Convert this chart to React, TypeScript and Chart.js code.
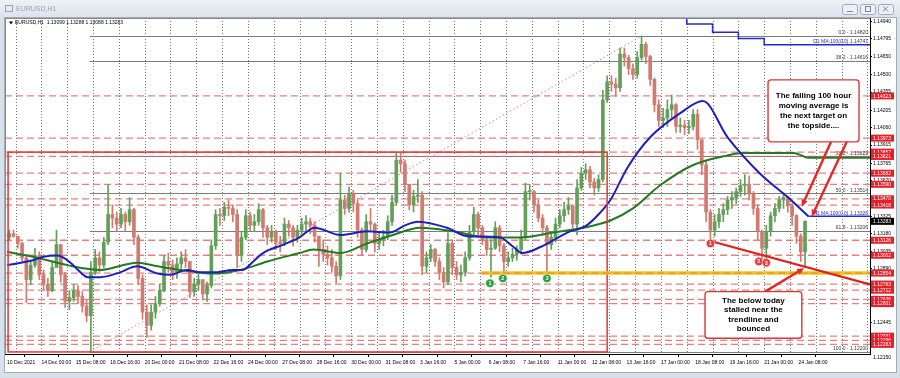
import React, { useEffect, useRef } from 'react';
import { Chart, registerables } from 'chart.js';
Chart.register(...registerables);

const FONT = "'Liberation Sans', Arial, sans-serif";

// ---- 4-hour OHLC (open = previous close) ----
const BAR_HOURS = 4;
const firstOpen = 1.1315;
const closes = [
  1.1318,1.1316,1.1310,1.1298,1.1280,1.1292,1.1300,1.1284,1.1276,1.1271,
  1.1290,1.1309,1.1284,1.1262,1.1265,1.1271,1.1266,1.1258,1.1250,1.1286,
  1.1298,1.1292,1.1311,1.1334,1.1331,1.1326,1.1334,1.1328,1.1338,1.1315,
  1.1281,1.1253,1.1242,1.1253,1.1260,1.1271,1.1295,1.1292,1.1286,1.1293,
  1.1298,1.1295,1.1270,1.1276,1.1280,1.1268,1.1275,1.1308,1.1334,1.1333,
  1.1340,1.1339,1.1334,1.1300,1.1315,1.1333,1.1325,1.1328,1.1338,1.1323,
  1.1315,1.1320,1.1311,1.1310,1.1326,1.1323,1.1315,1.1321,1.1326,1.1328,
  1.1325,1.1316,1.1305,1.1301,1.1298,1.1291,1.1283,1.1346,1.1339,1.1351,
  1.1343,1.1321,1.1305,1.1328,1.1326,1.1310,1.1313,1.1316,1.1328,1.1344,
  1.1379,1.1376,1.1359,1.1342,1.1349,1.1350,1.1291,1.1298,1.1305,1.1295,
  1.1286,1.1278,1.1310,1.1290,1.1284,1.1286,1.1298,1.1320,1.1334,1.1323,
  1.1313,1.1305,1.1306,1.1323,1.1308,1.1295,1.1298,1.1301,1.1305,1.1315,
  1.1353,1.1353,1.1342,1.1331,1.1323,1.1309,1.1315,1.1326,1.1333,1.1338,
  1.1341,1.1326,1.1356,1.1368,1.1371,1.1361,1.1356,1.1363,1.1429,1.1444,
  1.1442,1.1439,1.1467,1.1464,1.1455,1.1450,1.1464,1.1475,1.1465,1.1446,
  1.1425,1.1412,1.1414,1.1421,1.1425,1.1407,1.1408,1.1406,1.1407,1.1417,
  1.1396,1.1375,1.1336,1.1321,1.1328,1.1334,1.1338,1.1346,1.1348,1.1353,
  1.1358,1.1359,1.1351,1.1339,1.1320,1.1306,1.1320,1.1333,1.1339,1.1346,
  1.1348,1.1341,1.1333,1.1316,1.1303,1.13283,
];
const highs = [
  1.1321,1.1321,1.1316,1.1311,1.1300,1.1295,1.1306,1.1303,1.1288,1.1281,
  1.1295,1.1321,1.1309,1.1286,1.1271,1.1276,1.1275,1.1270,1.1263,1.1295,
  1.1305,1.1303,1.1315,1.1359,1.1342,1.1336,1.1339,1.1336,1.1348,1.1339,
  1.1317,1.1284,1.1259,1.1259,1.1266,1.1276,1.1300,1.1302,1.1296,1.1298,
  1.1303,1.1305,1.1295,1.1281,1.1286,1.1280,1.1278,1.1313,1.1338,1.1339,
  1.1344,1.1346,1.1342,1.1338,1.1320,1.1338,1.1336,1.1334,1.1343,1.1339,
  1.1325,1.1325,1.1321,1.1316,1.1331,1.1329,1.1325,1.1325,1.1331,1.1333,
  1.1331,1.1328,1.1316,1.1313,1.1308,1.1305,1.1295,1.1368,1.1350,1.1357,
  1.1354,1.1346,1.1323,1.1334,1.1339,1.1327,1.1320,1.1321,1.1333,1.1350,
  1.1385,1.1385,1.1379,1.1359,1.1354,1.1363,1.1353,1.1303,1.1309,1.1306,
  1.1298,1.1290,1.1319,1.1313,1.1295,1.1292,1.1303,1.1325,1.1340,1.1336,
  1.1325,1.1316,1.1313,1.1328,1.1325,1.1310,1.1303,1.1306,1.1308,1.1321,
  1.1360,1.1359,1.1354,1.1346,1.1334,1.1325,1.1320,1.1331,1.1338,1.1344,
  1.1348,1.1342,1.1363,1.1373,1.1376,1.1374,1.1364,1.1367,1.1437,1.1449,
  1.1449,1.1447,1.1472,1.1472,1.1466,1.1459,1.1469,1.1482,1.1477,1.1466,
  1.1447,1.1429,1.1422,1.1429,1.1433,1.1426,1.1414,1.1412,1.1412,1.1421,
  1.1421,1.1396,1.1379,1.1338,1.1334,1.1339,1.1343,1.1349,1.1353,1.1356,
  1.1363,1.1367,1.1366,1.1353,1.1342,1.1321,1.1325,1.1336,1.1343,1.1349,
  1.1352,1.1349,1.1343,1.1334,1.1318,1.13288,
];
const lows = [
  1.1313,1.1315,1.1306,1.1295,1.1261,1.1276,1.1290,1.1280,1.1271,1.1266,
  1.1270,1.1290,1.1278,1.1257,1.1255,1.1262,1.1260,1.1253,1.1245,1.1220,
  1.1284,1.1286,1.1290,1.1309,1.1323,1.1320,1.1323,1.1320,1.1325,1.1309,
  1.1276,1.1247,1.1232,1.1238,1.1248,1.1258,1.1270,1.1286,1.1280,1.1281,
  1.1288,1.1290,1.1265,1.1266,1.1271,1.1263,1.1262,1.1273,1.1305,1.1325,
  1.1329,1.1333,1.1328,1.1290,1.1295,1.1313,1.1320,1.1320,1.1325,1.1315,
  1.1309,1.1311,1.1305,1.1303,1.1308,1.1316,1.1308,1.1311,1.1318,1.1320,
  1.1318,1.1311,1.1291,1.1295,1.1292,1.1286,1.1277,1.1280,1.1334,1.1336,
  1.1336,1.1315,1.1300,1.1303,1.1321,1.1303,1.1305,1.1308,1.1313,1.1325,
  1.1342,1.1369,1.1353,1.1338,1.1336,1.1344,1.1284,1.1286,1.1295,1.1291,
  1.1280,1.1273,1.1276,1.1284,1.1280,1.1278,1.1283,1.1296,1.1317,1.1317,
  1.1309,1.1300,1.1282,1.1305,1.1303,1.1285,1.1291,1.1295,1.1296,1.1301,
  1.1313,1.1346,1.1336,1.1328,1.1317,1.1285,1.1305,1.1311,1.1323,1.1328,
  1.1334,1.1321,1.1317,1.1354,1.1363,1.1356,1.1350,1.1353,1.1361,1.1427,
  1.1436,1.1432,1.1436,1.1457,1.1450,1.1446,1.1447,1.1462,1.1459,1.1441,
  1.1419,1.1407,1.1406,1.1407,1.1414,1.1402,1.1402,1.1400,1.1401,1.1404,
  1.1388,1.1367,1.1328,1.1313,1.1316,1.1323,1.1328,1.1334,1.1339,1.1343,
  1.1349,1.1350,1.1346,1.1334,1.1313,1.1295,1.1295,1.1316,1.1328,1.1336,
  1.1339,1.1336,1.1325,1.1310,1.1295,1.1291,
];

// ---- moving averages (hour index, price) ----
const ma100Hours = [0,24,34,47,59,66,75,87,105,121,140,152,167,180,192,210,219,229,238,257,272,286,310,335,356,370,382,409,428,458,471,479,496,521,539,551,561,577,598,626,647,670,700,725,745];
const ma100 = [1.1292,1.1296,1.1299,1.1300,1.1294,1.1288,1.1282,1.1282,1.1286,1.1291,1.1285,1.1284,1.1288,1.1286,1.1286,1.1288,1.1288,1.1295,1.1302,1.1309,1.1315,1.1323,1.1317,1.1320,1.1319,1.1325,1.1328,1.1323,1.1316,1.1315,1.1307,1.1302,1.1307,1.1319,1.1325,1.1335,1.1346,1.1373,1.1398,1.1418,1.1428,1.1398,1.1368,1.1349,1.13326];
const ma200Hours = [0,24,56,87,121,140,161,192,217,242,272,285,310,335,359,384,415,446,477,508,536,561,582,607,638,670,684,731,744];
const ma200 = [1.1303,1.1299,1.1292,1.1288,1.1294,1.1291,1.1288,1.1285,1.1288,1.1295,1.1302,1.1305,1.1302,1.1310,1.1317,1.1323,1.1320,1.1315,1.1315,1.1319,1.1323,1.1329,1.1339,1.1358,1.1375,1.1383,1.1385,1.1385,1.1381];
const d1MaHours = [632, 656, 680, 704, 728, 802.4];
const d1Ma = [1.1496, 1.1492, 1.1485, 1.1480, 1.14747, 1.14747];

// ---- axes ----
const X_MIN = -1.86, X_MAX = 802.4;
const Y_MIN = 1.12183, Y_MAX = 1.14969;
const dateTickHours = [0,32,64,96,128,160,192,224,256,288,320,352,384,416,448,480,512,544,576,608,640,672,704,736];
const dateLabels = ['10 Dec 2021','14 Dec 00:00','15 Dec 08:00','16 Dec 16:00','20 Dec 00:00','21 Dec 08:00','22 Dec 16:00','24 Dec 00:00','27 Dec 08:00','28 Dec 16:00','30 Dec 00:00','31 Dec 08:00','3 Jan 16:00','5 Jan 00:00','6 Jan 08:00','7 Jan 16:00','11 Jan 00:00','12 Jan 08:00','13 Jan 16:00','17 Jan 00:00','18 Jan 08:00','19 Jan 16:00','21 Jan 00:00','24 Jan 08:00'];
const yTickValues = [1.1494,1.14795,1.1465,1.145,1.14355,1.14205,1.1406,1.13915,1.13765,1.1362,1.1347,1.13325,1.1318,1.13035,1.1289,1.1274,1.12595,1.12445,1.123,1.1215];

// ---- drawn objects ----
const redLevels = [1.14323,1.13973,1.13857,1.13821,1.13682,1.1359,1.1347,1.13418,1.13126,1.13002,1.12854,1.12763,1.12712,1.12636,1.12601,1.12331,1.12296,1.12263];
const currentPrice = 1.13283;
const fibLevels = [1.1482, 1.14616, 1.13822, 1.13514, 1.13206, 1.122];
const fibLabels = ['0.0 - 1.14820','38.2 - 1.14616','38.2 - 1.13822','50.0 - 1.13514','61.8 - 1.13206','100.0 - 1.12200'];
const fibStartHour = 77;
const fibDiagonal = [[77, 1.122], [590, 1.1482]];
const yellowLevel = 1.12854, yellowStartHour = 441;
const rangeBox = { h0: 1, h1: 558, top: 1.13857, bottom: 1.122 };
const trendLine = [[654, 1.1312], [802.4, 1.1276]];
const redMarks: [number, number, string][] = [[654, 1.1310, '1'], [699, 1.1295, '2'], [706, 1.1294, '3']];
const greenMarks: [number, number, string][] = [[449, 1.1277, '1'], [461, 1.1281, '2'], [502, 1.1281, '3']];
const callouts = [
  { h0: 707.6, h1: 792.2, top: 1.14456, bottom: 1.13942, gap: 10, lines: ['The falling 100 hour', 'moving average is', 'the next target on', 'the topside....'] },
  { h0: 649, h1: 739, top: 1.127, bottom: 1.12314, gap: 9.5, lines: ['The below today', 'stalled near the', 'trendline and', 'bounced'] },
];
const arrows = [[766.2, 1.13942, 738.9, 1.13405], [780.8, 1.13942, 748.2, 1.13322], [704.8, 1.127, 741.1, 1.12894]];
const maLabels = [
  { text: 'D1 MA:100(0.0) 1.14747', price: 1.14747, color: 'rgb(40,40,210)' },
  { text: 'H1 MA:100(0.0) 1.13326', price: 1.13326, color: 'rgb(40,40,210)' },
];

const BULL = 'rgb(98,160,90)';
const BEAR = 'rgb(208,122,112)';

function seg(ctx: CanvasRenderingContext2D, x1: number, y1: number, x2: number, y2: number) {
  ctx.beginPath(); ctx.moveTo(x1, y1); ctx.lineTo(x2, y2); ctx.stroke();
}
function rrect(ctx: CanvasRenderingContext2D, x: number, y: number, w: number, h: number, r: number) {
  ctx.beginPath();
  ctx.moveTo(x + r, y); ctx.lineTo(x + w - r, y); ctx.quadraticCurveTo(x + w, y, x + w, y + r);
  ctx.lineTo(x + w, y + h - r); ctx.quadraticCurveTo(x + w, y + h, x + w - r, y + h);
  ctx.lineTo(x + r, y + h); ctx.quadraticCurveTo(x, y + h, x, y + h - r);
  ctx.lineTo(x, y + r); ctx.quadraticCurveTo(x, y, x + r, y); ctx.closePath();
}
function arrow(ctx: CanvasRenderingContext2D, x1: number, y1: number, x2: number, y2: number) {
  const a = Math.atan2(y2 - y1, x2 - x1);
  const L = 7, W = 3.2;
  seg(ctx, x1, y1, x2 - (L - 1) * Math.cos(a), y2 - (L - 1) * Math.sin(a));
  ctx.beginPath();
  ctx.moveTo(x2, y2);
  ctx.lineTo(x2 - L * Math.cos(a) + W * Math.sin(a), y2 - L * Math.sin(a) - W * Math.cos(a));
  ctx.lineTo(x2 - L * Math.cos(a) - W * Math.sin(a), y2 - L * Math.sin(a) + W * Math.cos(a));
  ctx.closePath(); ctx.fill();
}

const mtPlugin = {
  id: 'mtOverlay',
  beforeDraw(chart: any) {
    const ctx: CanvasRenderingContext2D = chart.ctx;
    const W = chart.width, H = chart.height;
    ctx.save();
    ctx.fillStyle = '#ffffff'; ctx.fillRect(0, 0, W, H);
    const g = ctx.createLinearGradient(0, 0, 0, 17);
    g.addColorStop(0, '#eef2f6'); g.addColorStop(1, '#dce3eb');
    ctx.fillStyle = g; ctx.fillRect(0, 0, W, 17);
    ctx.fillStyle = '#d8e0ea';
    ctx.fillRect(0, 17, 4, H - 17); ctx.fillRect(W - 3, 17, 3, H - 17); ctx.fillRect(0, 372, W, H - 372);
    ctx.strokeStyle = '#a3adb8'; ctx.lineWidth = 1;
    ctx.strokeRect(4.5, 17.5, W - 8, 355);
    // title icon and text
    ctx.strokeStyle = '#9aa4ae'; ctx.strokeRect(5.5, 5.5, 7, 6);
    ctx.fillStyle = '#98a1ab'; ctx.font = `7px ${FONT}`; ctx.textBaseline = 'middle'; ctx.textAlign = 'left';
    ctx.fillText('EURUSD,H1', 16, 9);
    // window buttons
    [842, 860, 878].forEach((bx, i) => {
      rrect(ctx, bx + 0.5, 4.5, 15, 10, 2);
      ctx.fillStyle = '#edf1f5'; ctx.fill(); ctx.strokeStyle = '#a0abb6'; ctx.stroke();
      ctx.strokeStyle = '#7d8894';
      if (i === 0) seg(ctx, bx + 5, 11.5, bx + 11, 11.5);
      if (i === 1) ctx.strokeRect(bx + 5.5, 6.5, 5, 5);
      if (i === 2) { seg(ctx, bx + 5, 6.5, bx + 10, 11.5); seg(ctx, bx + 10, 6.5, bx + 5, 11.5); }
    });
    // info line
    ctx.fillStyle = '#000';
    ctx.beginPath(); ctx.moveTo(9, 21.5); ctx.lineTo(13, 21.5); ctx.lineTo(11, 24.5); ctx.closePath(); ctx.fill();
    ctx.font = `5px ${FONT}`;
    ctx.fillText('EURUSD,H1  1.13099 1.13288 1.13088 1.13283', 15, 23);
    ctx.restore();
  },
  beforeDatasetsDraw(chart: any) {
    const ctx: CanvasRenderingContext2D = chart.ctx;
    const a = chart.chartArea, xs = chart.scales.x, ys = chart.scales.y;
    const X = (h: number) => xs.getPixelForValue(h), Y = (p: number) => ys.getPixelForValue(p);
    ctx.save();
    ctx.beginPath(); ctx.rect(a.left, a.top, a.right - a.left, a.bottom - a.top); ctx.clip();
    // plot frame (left / top)
    ctx.strokeStyle = '#8a8a8a'; ctx.lineWidth = 1;
    seg(ctx, a.left + 0.5, a.top, a.left + 0.5, a.bottom);
    seg(ctx, a.left, a.top + 0.5, a.right, a.top + 0.5);
    // day separators
    ctx.strokeStyle = '#7a7a7a'; ctx.setLineDash([1, 2]);
    for (let k = 0; 8 + 24 * k <= X_MAX; k++) {
      const px = Math.round(X(8 + 24 * k)) + 0.5;
      seg(ctx, px, a.top, px, a.bottom);
    }
    // fibonacci levels
    ctx.setLineDash([]); ctx.strokeStyle = '#7c7c7c'; ctx.lineWidth = 1;
    fibLevels.forEach((p) => { const py = Math.round(Y(p)) + 0.5; seg(ctx, X(fibStartHour), py, a.right, py); });
    // red dashed horizontal levels
    ctx.setLineDash([7, 4]); ctx.strokeStyle = 'rgba(224,98,98,0.8)'; ctx.lineWidth = 1.3;
    redLevels.forEach((p) => { const py = Y(p); seg(ctx, a.left, py, a.right, py); });
    // fib diagonal
    ctx.setLineDash([1.5, 2.5]); ctx.strokeStyle = 'rgba(196,120,130,0.9)'; ctx.lineWidth = 1;
    seg(ctx, X(fibDiagonal[0][0]), Y(fibDiagonal[0][1]), X(fibDiagonal[1][0]), Y(fibDiagonal[1][1]));
    ctx.restore();
  },
  afterDatasetsDraw(chart: any) {
    const ctx: CanvasRenderingContext2D = chart.ctx;
    const a = chart.chartArea, xs = chart.scales.x, ys = chart.scales.y;
    const X = (h: number) => xs.getPixelForValue(h), Y = (p: number) => ys.getPixelForValue(p);
    ctx.save();
    ctx.beginPath(); ctx.rect(a.left, a.top, a.right - a.left, a.bottom - a.top); ctx.clip();
    // range rectangle
    ctx.strokeStyle = 'rgb(228,52,52)'; ctx.lineWidth = 1.5;
    ctx.strokeRect(X(rangeBox.h0), Y(rangeBox.top), X(rangeBox.h1) - X(rangeBox.h0), Y(rangeBox.bottom) - Y(rangeBox.top));
    // yellow support line
    const yy = Y(yellowLevel);
    ctx.strokeStyle = 'rgb(240,196,20)'; ctx.lineWidth = 3.5;
    seg(ctx, X(yellowStartHour), yy, a.right, yy);
    ctx.setLineDash([7, 4]); ctx.strokeStyle = 'rgba(232,120,60,0.7)'; ctx.lineWidth = 1.2;
    seg(ctx, X(yellowStartHour), yy, a.right, yy);
    ctx.setLineDash([]);
    // MA extension lines
    ctx.strokeStyle = 'rgb(40,40,200)'; ctx.lineWidth = 1.5;
    seg(ctx, X(ma100Hours[ma100Hours.length - 1]), Y(1.13326), a.right, Y(1.13326));
    ctx.strokeStyle = 'rgb(34,122,34)'; ctx.lineWidth = 2;
    seg(ctx, X(ma200Hours[ma200Hours.length - 1]), Y(ma200[ma200.length - 1]), a.right, Y(ma200[ma200.length - 1]));
    // trend line
    ctx.strokeStyle = 'rgb(224,30,30)'; ctx.lineWidth = 2.2;
    seg(ctx, X(trendLine[0][0]), Y(trendLine[0][1]), X(trendLine[1][0]), Y(trendLine[1][1]));
    // labels of fib / MA
    ctx.font = `5px ${FONT}`; ctx.textAlign = 'right'; ctx.textBaseline = 'alphabetic';
    fibLevels.forEach((p, i) => { ctx.fillStyle = '#3a3a3a'; ctx.fillText(fibLabels[i], a.right - 2, Y(p) - 1.5); });
    maLabels.forEach((m) => { ctx.fillStyle = m.color; ctx.fillText(m.text, a.right - 2, Y(m.price) - 1.5); });
    // numbered marks
    const mark = (h: number, p: number, t: string, col: string) => {
      ctx.beginPath(); ctx.arc(X(h), Y(p), 4.2, 0, Math.PI * 2);
      ctx.fillStyle = col; ctx.fill(); ctx.strokeStyle = 'rgba(255,255,255,0.8)'; ctx.lineWidth = 0.6; ctx.stroke();
      ctx.fillStyle = '#fff'; ctx.font = `bold 5.5px ${FONT}`; ctx.textAlign = 'center'; ctx.textBaseline = 'middle';
      ctx.fillText(t, X(h), Y(p) + 0.3);
    };
    redMarks.forEach(([h, p, t]) => mark(h, p, t, 'rgb(228,60,60)'));
    greenMarks.forEach(([h, p, t]) => mark(h, p, t, 'rgb(40,160,60)'));
    // arrows
    ctx.strokeStyle = 'rgb(226,40,40)'; ctx.fillStyle = 'rgb(226,40,40)'; ctx.lineWidth = 2.4;
    arrows.forEach(([h1, p1, h2, p2]) => arrow(ctx, X(h1), Y(p1), X(h2), Y(p2)));
    // callout boxes
    callouts.forEach((c) => {
      const x0 = X(c.h0), x1 = X(c.h1), y0 = Y(c.top), y1 = Y(c.bottom);
      rrect(ctx, x0, y0, x1 - x0, y1 - y0, 3);
      ctx.fillStyle = '#fff'; ctx.fill();
      ctx.strokeStyle = 'rgb(214,56,56)'; ctx.lineWidth = 1.4; ctx.stroke();
      ctx.fillStyle = '#000'; ctx.font = `bold 8px ${FONT}`; ctx.textAlign = 'center'; ctx.textBaseline = 'middle';
      const cy = (y0 + y1) / 2, cx = (x0 + x1) / 2;
      c.lines.forEach((ln, i) => ctx.fillText(ln, cx, cy + (i - (c.lines.length - 1) / 2) * c.gap));
    });
    ctx.restore();
  },
  afterDraw(chart: any) {
    const ctx: CanvasRenderingContext2D = chart.ctx;
    const a = chart.chartArea, ys = chart.scales.y;
    const Y = (p: number) => ys.getPixelForValue(p);
    ctx.save();
    ctx.font = `5px ${FONT}`; ctx.textAlign = 'left'; ctx.textBaseline = 'middle';
    // out-of-range bottom tick label
    ctx.fillStyle = '#000';
    yTickValues.filter((v) => v < Y_MIN).forEach((v) => ctx.fillText(v.toFixed(5), a.right + 3, Y(v)));
    redLevels.forEach((p) => {
      const y = Y(p);
      ctx.fillStyle = 'rgb(232,30,40)'; ctx.fillRect(a.right + 1, y - 3.5, 23, 7);
      ctx.fillStyle = '#fff'; ctx.fillText(p.toFixed(5), a.right + 3, y + 0.3);
    });
    const yc = Y(currentPrice);
    ctx.fillStyle = '#000'; ctx.fillRect(a.right + 1, yc - 3.5, 23, 7);
    ctx.fillStyle = '#fff'; ctx.fillText(currentPrice.toFixed(5), a.right + 3, yc + 0.3);
    ctx.restore();
  },
};

export default function App() {
  const ref = useRef<HTMLCanvasElement>(null);
  useEffect(() => {
    const canvas = ref.current;
    if (!canvas) return;
    const opens = [firstOpen, ...closes.slice(0, -1)];
    const colors = closes.map((c, i) => (c >= opens[i] ? BULL : BEAR));
    const hours = closes.map((_, i) => i * BAR_HOURS + BAR_HOURS / 2);
    const tickFont = { size: 5, family: FONT };
    const chart = new Chart(canvas, {
      type: 'bar',
      data: {
        datasets: [
          { type: 'line', label: 'MA100', data: ma100Hours.map((h, i) => ({ x: h, y: ma100[i] })), borderColor: 'rgb(30,30,192)', borderWidth: 2, pointRadius: 0, cubicInterpolationMode: 'monotone', order: 0 } as any,
          { type: 'line', label: 'MA200', data: ma200Hours.map((h, i) => ({ x: h, y: ma200[i] })), borderColor: 'rgb(34,122,34)', borderWidth: 2, pointRadius: 0, cubicInterpolationMode: 'monotone', order: 0 } as any,
          { type: 'line', label: 'D1 MA100', data: d1MaHours.map((h, i) => ({ x: h, y: d1Ma[i] })), borderColor: 'rgb(40,40,210)', borderWidth: 1.5, pointRadius: 0, stepped: 'after', order: 0 } as any,
          { type: 'bar', label: 'wick', data: hours.map((h, i) => ({ x: h, y: [lows[i], highs[i]] })), backgroundColor: colors, barThickness: 1, grouped: false, order: 2 } as any,
          { type: 'bar', label: 'body', data: hours.map((h, i) => ({ x: h, y: [opens[i], closes[i]] })), backgroundColor: colors, barThickness: 3, minBarLength: 1, grouped: false, order: 1 } as any,
        ],
      },
      options: {
        animation: false,
        responsive: false,
        devicePixelRatio: 1,
        layout: { padding: { left: 5, top: 18, right: 0, bottom: 0 } },
        plugins: { legend: { display: false }, tooltip: { enabled: false } },
        scales: {
          x: {
            type: 'linear', min: X_MIN, max: X_MAX, offset: false,
            grid: { display: true, drawOnChartArea: false, drawTicks: true, tickLength: 3, color: '#000' },
            border: { display: true, color: '#000' },
            ticks: { font: tickFont, color: '#000', align: 'start', padding: 3, maxRotation: 0, minRotation: 0, autoSkip: false,
              callback: (_v: any, i: number) => dateLabels[i] },
            afterBuildTicks: (s: any) => { s.ticks = dateTickHours.map((v) => ({ value: v })); },
            afterFit: (s: any) => { s.height = 24; },
          },
          y: {
            type: 'linear', position: 'right', min: Y_MIN, max: Y_MAX,
            grid: { display: true, drawOnChartArea: false, drawTicks: true, tickLength: 2, color: '#000' },
            border: { display: true, color: '#000' },
            ticks: { font: tickFont, color: '#000', padding: 1, autoSkip: false, callback: (v: any) => Number(v).toFixed(5) },
            afterBuildTicks: (s: any) => { s.ticks = yTickValues.filter((v) => v >= Y_MIN && v <= Y_MAX).map((v) => ({ value: v })); },
            afterFit: (s: any) => { s.width = 30; },
          },
        },
      } as any,
      plugins: [mtPlugin],
    });
    return () => chart.destroy();
  }, []);
  return (
    <div style={{ position: 'absolute', left: 0, top: 0, width: 900, height: 378 }}>
      <canvas ref={ref} width={900} height={378} style={{ display: 'block', width: 900, height: 378 }} />
    </div>
  );
}
